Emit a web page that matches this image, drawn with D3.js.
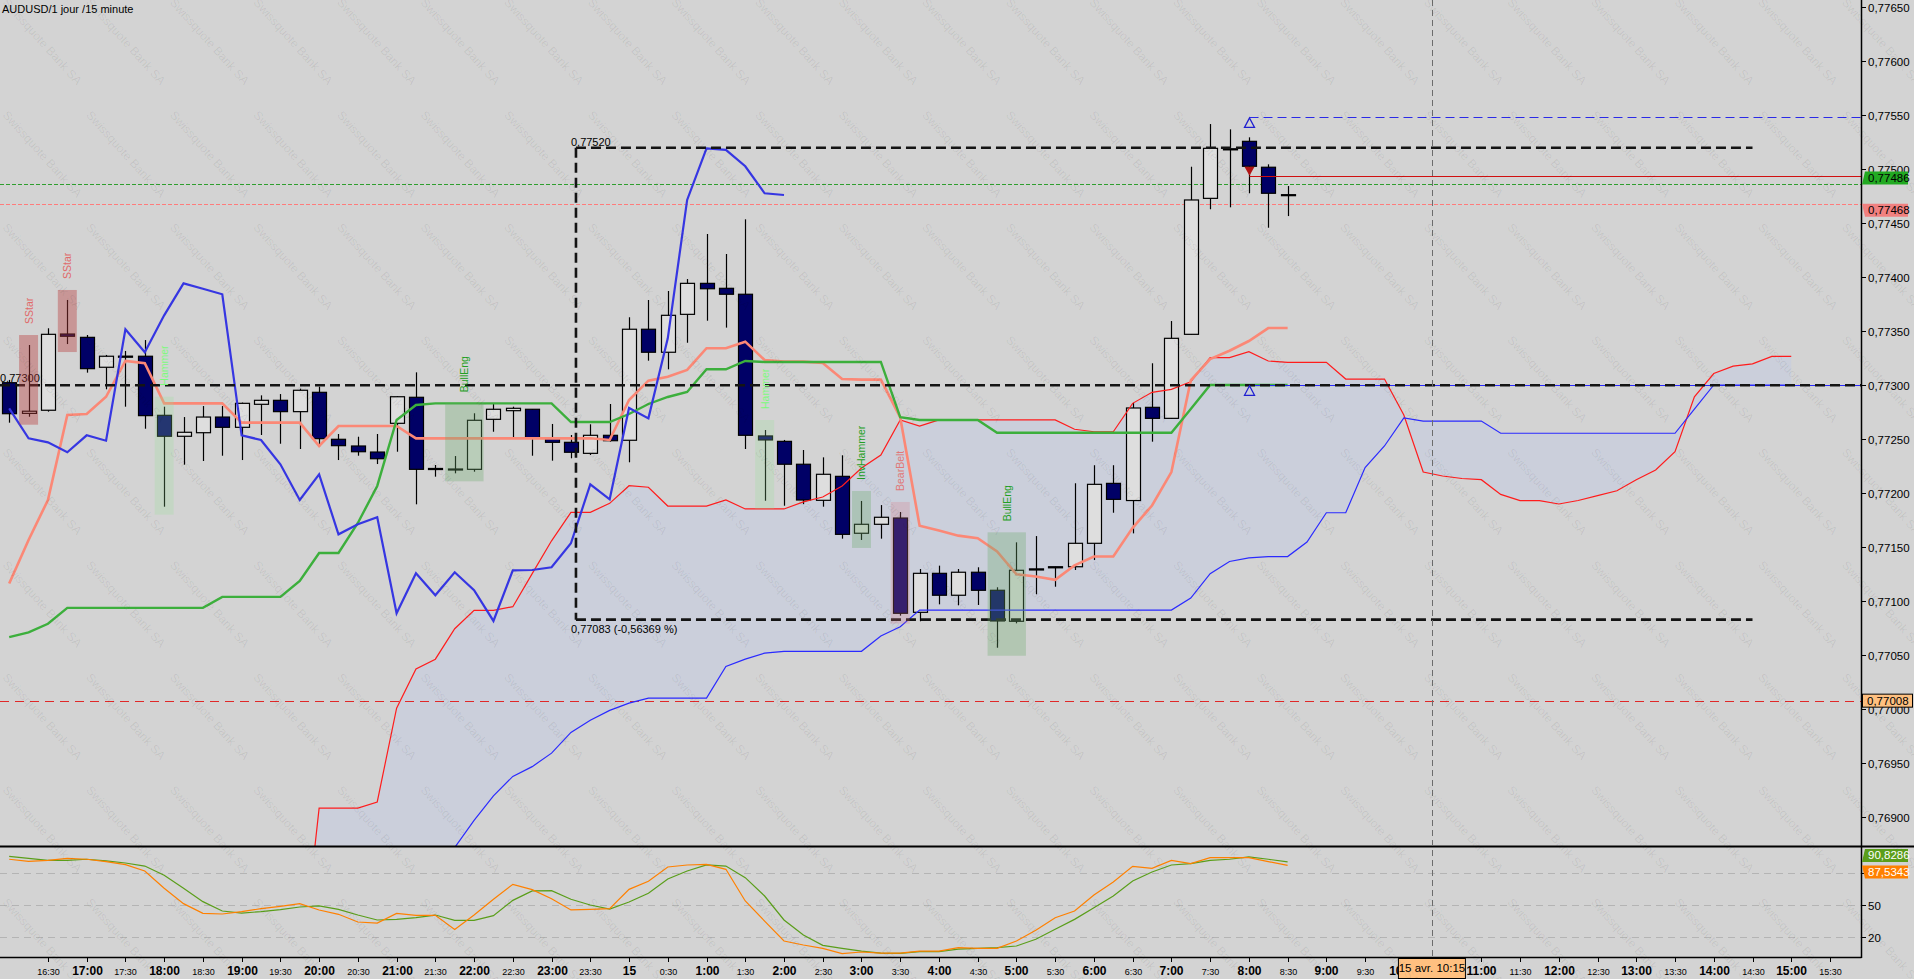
<!DOCTYPE html>
<html><head><meta charset="utf-8">
<script src="https://cdn.jsdelivr.net/npm/d3@7"></script>
<style>
html,body{margin:0;padding:0;background:#d3d3d3;overflow:hidden}
svg{display:block}
text{font-family:"Liberation Sans",Arial,sans-serif}
</style></head><body>
<svg id="c" width="1914" height="979"></svg>
<script>
// ---------------- DATA ----------------
const title = "AUDUSD/1 jour /15 minute";
const candleTimes = ["16:00","16:15","16:30","16:45","17:00","17:15","17:30","17:45","18:00","18:15","18:30","18:45","19:00","19:15","19:30","19:45","20:00","20:15","20:30","20:45","21:00","21:15","21:30","21:45","22:00","22:15","22:30","22:45","23:00","23:15","23:30","23:45","0:00","0:15","0:30","0:45","1:00","1:15","1:30","1:45","2:00","2:15","2:30","2:45","3:00","3:15","3:30","3:45","4:00","4:15","4:30","4:45","5:00","5:15","5:30","5:45","6:00","6:15","6:30","6:45","7:00","7:15","7:30","7:45","8:00","8:15","8:30"];
const opens  = [0.773024,0.77274,0.772769,0.773475,0.773444,0.773167,0.77327,0.773269,0.772722,0.772528,0.772561,0.772706,0.772611,0.772824,0.772861,0.772756,0.772935,0.7725,0.772438,0.772382,0.772648,0.772889,0.77223,0.772225,0.772222,0.772685,0.772765,0.772778,0.772509,0.772472,0.77237,0.772537,0.772491,0.773519,0.773306,0.773657,0.773944,0.773898,0.773843,0.772531,0.772481,0.772269,0.771935,0.772157,0.77163,0.771713,0.771771,0.770898,0.771259,0.771056,0.771269,0.771102,0.770815,0.7713,0.77132,0.77132,0.771537,0.772092,0.771933,0.772796,0.772694,0.773472,0.774731,0.77519,0.775259,0.775019,0.774765];
const highs  = [0.77305,0.773373,0.773528,0.77379,0.773466,0.773281,0.773318,0.773419,0.772802,0.772706,0.772808,0.772808,0.77284,0.772907,0.772919,0.772969,0.772987,0.772549,0.772524,0.772549,0.7729,0.77312,0.772262,0.772345,0.772741,0.772827,0.772802,0.77278,0.772642,0.77254,0.772639,0.772827,0.77363,0.77379,0.773873,0.773984,0.774401,0.774216,0.774537,0.772586,0.772494,0.772401,0.772333,0.772352,0.771929,0.771891,0.771827,0.771299,0.77133,0.771299,0.771315,0.77113,0.771546,0.771604,0.77132,0.772093,0.77226,0.77226,0.772838,0.773204,0.773595,0.775024,0.775419,0.77537,0.775296,0.775046,0.774845];
const lows   = [0.772654,0.772709,0.772756,0.773382,0.773117,0.772963,0.772802,0.772598,0.771876,0.772265,0.772299,0.772348,0.772308,0.77254,0.772459,0.77241,0.772431,0.772308,0.772348,0.772271,0.772385,0.771898,0.772154,0.772185,0.7722,0.77257,0.772519,0.772348,0.772302,0.772324,0.772355,0.772478,0.772287,0.773228,0.773148,0.773394,0.773598,0.773534,0.77241,0.771931,0.771885,0.7719,0.771876,0.77158,0.771568,0.77158,0.770867,0.770815,0.770972,0.770963,0.770966,0.77057,0.770796,0.771065,0.771135,0.77129,0.771382,0.77182,0.771629,0.772478,0.77269,0.77347,0.77463,0.774648,0.774778,0.774459,0.774567];
const closes = [0.772737,0.77276,0.773472,0.773454,0.773154,0.773269,0.77326,0.772719,0.772528,0.772565,0.772706,0.772611,0.772833,0.772861,0.772756,0.772954,0.772506,0.772441,0.772385,0.77232,0.772894,0.772222,0.77222,0.772225,0.772676,0.772778,0.772787,0.772509,0.772472,0.77238,0.772537,0.772487,0.773519,0.773306,0.773648,0.773944,0.773894,0.773843,0.772537,0.772494,0.772269,0.771938,0.772176,0.77162,0.771713,0.771778,0.770889,0.771259,0.771056,0.771269,0.771102,0.770818,0.771287,0.77129,0.77131,0.771537,0.772083,0.771944,0.77279,0.772694,0.773435,0.774716,0.775194,0.77518,0.775028,0.774778,0.77476];

// Ichimoku
const tenkan = [0.771165,0.771568,0.771938,0.772725,0.772734,0.772894,0.773225,0.773204,0.772833,0.772833,0.772833,0.772833,0.772654,0.772654,0.772654,0.772654,0.772438,0.772623,0.772623,0.772623,0.772623,0.772509,0.772509,0.772509,0.772509,0.772509,0.772509,0.772509,0.772509,0.772509,0.772509,0.772494,0.772864,0.773043,0.77308,0.773142,0.773343,0.773343,0.773404,0.773234,0.773219,0.773219,0.773207,0.773059,0.773053,0.773053,0.772702,0.7717,0.771655,0.771608,0.771584,0.771461,0.77125,0.77123,0.771199,0.771332,0.771415,0.771415,0.77168,0.771887,0.772196,0.773045,0.773242,0.77332,0.77341,0.77353,0.77353];
const kijun = [0.770668,0.770713,0.770792,0.770939,0.770939,0.770939,0.770939,0.770939,0.770939,0.770939,0.770939,0.771041,0.771041,0.771041,0.771041,0.771188,0.771447,0.771447,0.771725,0.772068,0.772679,0.772818,0.772833,0.772833,0.772833,0.772833,0.772833,0.772833,0.772833,0.77266,0.77266,0.77266,0.772734,0.772827,0.772892,0.772938,0.773148,0.773148,0.773225,0.773216,0.773216,0.773216,0.773216,0.773216,0.773216,0.773216,0.772704,0.772679,0.772679,0.772679,0.772679,0.772561,0.772561,0.772561,0.772561,0.772561,0.772561,0.772561,0.772561,0.772561,0.772561,0.77278,0.773003,0.773003,0.773003,0.773003,0.773003];
const chikou = [0.772787,0.772509,0.772472,0.77238,0.772537,0.772487,0.773519,0.773306,0.773648,0.773944,0.773894,0.773843,0.772537,0.772494,0.772269,0.771938,0.772176,0.77162,0.771713,0.771778,0.770889,0.771259,0.771056,0.771269,0.771102,0.770818,0.771287,0.77129,0.771315,0.771537,0.772083,0.771944,0.77279,0.772694,0.773435,0.774716,0.775194,0.77518,0.775028,0.774778,0.774762];
const spanStart = 15;
const spanA = [0.767451,0.769085,0.769085,0.769085,0.769142,0.77001,0.770373,0.770464,0.770746,0.770916,0.770916,0.77095,0.771256,0.77156,0.771824,0.771824,0.771907,0.77207,0.772056,0.771882,0.771882,0.771882,0.771938,0.771855,0.771855,0.771855,0.77192,0.771966,0.772068,0.772234,0.772355,0.772679,0.772623,0.772679,0.772679,0.772679,0.772679,0.772679,0.772679,0.772679,0.772593,0.77257,0.77257,0.772833,0.772935,0.772963,0.773033,0.773256,0.773256,0.773311,0.773225,0.773213,0.773213,0.773213,0.773058,0.773058,0.773058,0.772725,0.772197,0.77216,0.772137,0.772126,0.77199,0.771933,0.771933,0.771901,0.771933,0.771979,0.772024,0.772126,0.772216,0.772385,0.772894,0.773109,0.773177,0.773199,0.773268,0.773268];
const spanB = [0.7678,0.7678,0.7678,0.7678,0.7678,0.7679,0.768,0.76815,0.76872,0.768972,0.769198,0.769379,0.769469,0.769594,0.769786,0.769899,0.76999,0.770057,0.770103,0.770103,0.770103,0.770103,0.770396,0.770464,0.77052,0.770537,0.770537,0.770537,0.770537,0.770537,0.770679,0.770765,0.770919,0.770919,0.770919,0.770919,0.770919,0.770919,0.770919,0.770919,0.770919,0.770919,0.770919,0.770919,0.770919,0.770919,0.77103,0.771256,0.771369,0.771402,0.771414,0.771414,0.771549,0.77182,0.77182,0.772239,0.772438,0.772697,0.772669,0.772669,0.772669,0.772669,0.772556,0.772556,0.772556,0.772556,0.772556,0.772556,0.772556,0.772556,0.772556,0.772556,0.77278,0.773003,0.773003,0.773003,0.773003,0.773003];

// Stochastic
const stochK = [93.3,91.4,92.3,94.2,93.3,91.1,88.2,82.2,65.8,51.3,42.1,41.5,43.7,46.5,48.7,51.3,45.3,41.2,33.9,32.9,42.1,40.2,40.2,26.9,40.5,55.4,69.6,64.5,56,45.3,45.9,46.5,64.8,72.4,86,87.9,88.5,83.8,53.8,34.8,15.9,12.1,8.9,3.9,5.5,4.5,4.5,6.4,6.4,9.6,8.9,8.9,15.9,26,38,44.3,59.5,71.8,86.6,84.7,92.3,89.2,94.8,94.8,94.8,91.1,87.5];
const stochD = [96.1,94.2,92.3,92.3,93.3,91.7,89.8,86.9,78.1,65.8,53.2,44.3,42.4,43.7,45.6,48.1,49.1,45.9,40.5,35.8,36.4,38,40.5,35.5,35.5,39.9,54.4,63.3,63.6,55.4,50,46.2,52.8,61.1,74.6,82.2,87.9,86.9,75.9,58.5,35.8,21.6,11.8,8.9,6.4,4.5,4.2,5.8,5.8,8.3,8.9,9.6,11.2,17.5,27,36.4,47.5,58.5,72.7,81.3,87.9,89.2,92.3,93.3,95.5,93.3,90.8];
const stochKLabel = "87,5343", stochDLabel = "90,8286";

// Patterns
const patterns = [
  {name:"SStar", from:1, to:1, kind:"bear"},
  {name:"SStar", from:3, to:3, kind:"bear"},
  {name:"Hammer", from:8, to:8, kind:"hammer"},
  {name:"BullEng", from:23, to:24, kind:"bull"},
  {name:"Hammer", from:39, to:39, kind:"hammer"},
  {name:"InvHammer", from:44, to:44, kind:"bull"},
  {name:"BearBelt", from:46, to:46, kind:"belt"},
  {name:"BullEng", from:51, to:52, kind:"bull"}
];

// Horizontal levels / drawings
const level773 = 0.77300, level773Label = "0,77300";
const measureFrom = 29.26, measureTo = 90, measureHigh = 0.77520, measureLow = 0.77083;
const measureHighLabel = "0,77520", measureLowLabel = "0,77083 (-0,56369 %)";
const bidPrice = 0.77486, askPrice = 0.77468;
const crossIdx = 73.45, crossPrice = 0.77008, crossTimeLabel = "15 avr. 10:15";
const signalIdx = 64, signalBlueDash = 0.77548, signalRed = 0.77494, signalBlueSolid = 0.77300;

// Axes labels
const priceTicks = [0.76900,0.76950,0.77000,0.77050,0.77100,0.77150,0.77200,0.77250,0.77300,0.77350,0.77400,0.77450,0.77500,0.77550,0.77600,0.77650];
const oscTicks = [20,50,80];
const timeLabels = ["16:30","17:00","17:30","18:00","18:30","19:00","19:30","20:00","20:30","21:00","21:30","22:00","22:30","23:00","23:30","15","0:30","1:00","1:30","2:00","2:30","3:00","3:30","4:00","4:30","5:00","5:30","6:00","6:30","7:00","7:30","8:00","8:30","9:00","9:30","10:00","10:30","11:00","11:30","12:00","12:30","13:00","13:30","14:00","14:30","15:00","15:30"];
const timeLabelStart = 2, timeLabelStep = 2;
const watermark = "Swissquote Bank SA";

// ---------------- LAYOUT ----------------
const W = 1914, H = 979;
const plotR = 1861, mainBot = 846, oscTop = 846, oscBot = 957;
const x = d3.scaleLinear().domain([0, 66]).range([9.2, 9.2 + 66 * 19.37]);
const y = d3.scaleLinear().domain([0.772, 0.7765]).range([493.3, 7.3]);
const yo = d3.scaleLinear().domain([0, 100]).range([957.8, 852.2]);
const fmtP = v => d3.format(".5f")(v).replace(".", ",");

const svg = d3.select("#c");
const defs = svg.append("defs");
defs.append("clipPath").attr("id", "cm").append("rect").attr("x", 0).attr("y", 0).attr("width", plotR).attr("height", mainBot);
defs.append("clipPath").attr("id", "co").append("rect").attr("x", 0).attr("y", oscTop).attr("width", plotR).attr("height", oscBot - oscTop);

svg.append("rect").attr("width", W).attr("height", H).attr("fill", "#d3d3d3");

const gm = svg.append("g").attr("clip-path", "url(#cm)");

// Cloud
const spanIdx = d3.range(spanA.length).map(k => k + spanStart);
gm.append("path").datum(spanIdx)
  .attr("d", d3.area().x(i => x(i)).y0(i => y(spanB[i - spanStart])).y1(i => y(spanA[i - spanStart])))
  .attr("fill", "#cbcfdb");

function hline(g, p, x0, x1, color, w, dash) {
  g.append("line").attr("x1", x0).attr("x2", x1).attr("y1", Math.round(y(p)) + 0.5).attr("y2", Math.round(y(p)) + 0.5)
    .attr("stroke", color).attr("stroke-width", w).attr("stroke-dasharray", dash || null);
}
hline(gm, bidPrice, 0, plotR, "#2e9e2e", 1, "4,2");
hline(gm, askPrice, 0, plotR, "#ff7b7b", 1, "4,2");
hline(gm, crossPrice, 0, plotR, "#e02828", 1, "9,6");

// Candles
const idx = d3.range(opens.length);
const cg = gm.append("g");
cg.selectAll("line.w").data(idx).join("line")
  .attr("x1", i => Math.round(x(i)) + 0.5).attr("x2", i => Math.round(x(i)) + 0.5)
  .attr("y1", i => y(highs[i])).attr("y2", i => y(lows[i]))
  .attr("stroke", "#000").attr("stroke-width", 1.2);
cg.selectAll("rect.b").data(idx).join("rect")
  .attr("x", i => Math.round(x(i)) - 6.5).attr("width", 14)
  .attr("y", i => Math.min(y(opens[i]), y(closes[i])))
  .attr("height", i => Math.max(1, Math.abs(y(opens[i]) - y(closes[i]))))
  .attr("fill", i => closes[i] < opens[i] ? "#000066" : "#dedede")
  .attr("stroke", "#000").attr("stroke-width", 1.2);

// Indicator lines
const lineGen = off => d3.line().x((d, k) => x(k + off)).y(d => y(d));
gm.append("path").attr("d", lineGen(spanStart)(spanA)).attr("fill", "none").attr("stroke", "#ff1c1c").attr("stroke-width", 1.2);
gm.append("path").attr("d", lineGen(spanStart)(spanB)).attr("fill", "none").attr("stroke", "#2a2aff").attr("stroke-width", 1.2);
gm.append("path").attr("d", lineGen(0)(tenkan)).attr("fill", "none").attr("stroke", "#fb8876").attr("stroke-width", 2.6);
gm.append("path").attr("d", lineGen(0)(kijun)).attr("fill", "none").attr("stroke", "#3caf3c").attr("stroke-width", 2.4);
gm.append("path").attr("d", lineGen(0)(chikou)).attr("fill", "none").attr("stroke", "#3636e2").attr("stroke-width", 2.2);

// signal lines
const sx = Math.round(x(signalIdx)) + 0.5;
hline(gm, signalBlueSolid, sx, plotR, "#2a2aff", 1);
hline(gm, signalBlueDash, sx, plotR, "#2a2ae6", 1, "9,5");
hline(gm, signalRed, sx, plotR, "#d01010", 1.2);

// Black dashed drawings
const dashS = "10,5";
gm.append("line").attr("x1", 0).attr("x2", plotR).attr("y1", y(level773)).attr("y2", y(level773))
  .attr("stroke", "#141414").attr("stroke-width", 2.6).attr("stroke-dasharray", dashS);
[measureHigh, measureLow].forEach(p => {
  gm.append("line").attr("x1", x(measureFrom)).attr("x2", x(measureTo)).attr("y1", y(p)).attr("y2", y(p))
    .attr("stroke", "#141414").attr("stroke-width", 2.6).attr("stroke-dasharray", dashS);
});
gm.append("line").attr("x1", x(measureFrom)).attr("x2", x(measureFrom)).attr("y1", y(measureHigh)).attr("y2", y(measureLow))
  .attr("stroke", "#141414").attr("stroke-width", 2.6).attr("stroke-dasharray", dashS);
gm.append("text").attr("x", x(measureFrom) - 5).attr("y", y(measureHigh) - 2).attr("font-size", 11).text(measureHighLabel);
gm.append("text").attr("x", x(measureFrom) - 5).attr("y", y(measureLow) + 13).attr("font-size", 11).text(measureLowLabel);
gm.append("text").attr("x", 0).attr("y", y(level773) - 3).attr("font-size", 11).text(level773Label);

// Pattern boxes and labels
const patStyle = {
  bear:   {fill: "rgba(185,60,60,0.40)", text: "#e06a6a"},
  belt:   {fill: "rgba(215,120,130,0.25)", text: "#e07878"},
  hammer: {fill: "rgba(150,225,150,0.24)", text: "#7cfa7c"},
  bull:   {fill: "rgba(110,170,110,0.32)", text: "#23a023"}
};
patterns.forEach(pt => {
  const hi = d3.max(d3.range(pt.from, pt.to + 1), i => highs[i]);
  const lo = d3.min(d3.range(pt.from, pt.to + 1), i => lows[i]);
  const x0 = x(pt.from) - 9.5, x1 = x(pt.to) + 9.5;
  const top = y(hi) - 10, bot = y(lo) + 8;
  const st = patStyle[pt.kind];
  gm.append("rect").attr("x", x0).attr("y", top).attr("width", x1 - x0).attr("height", bot - top).attr("fill", st.fill);
  gm.append("text").attr("transform", `translate(${(x0 + x1) / 2},${top - 11}) rotate(-90)`)
    .attr("dominant-baseline", "central").attr("font-size", 10.5).attr("fill", st.text).text(pt.name);
});

// Signal triangles
const ty1 = y(signalBlueDash), ty2 = y(signalBlueSolid), ty3 = y(signalRed);
gm.append("path").attr("d", `M${sx},${ty1 + 0.5} L${sx + 5},${ty1 + 10} L${sx - 5},${ty1 + 10} Z`).attr("fill", "none").attr("stroke", "#2020d0").attr("stroke-width", 1.3);
gm.append("path").attr("d", `M${sx},${ty2 + 0.5} L${sx + 5},${ty2 + 10} L${sx - 5},${ty2 + 10} Z`).attr("fill", "none").attr("stroke", "#2020d0").attr("stroke-width", 1.3);
gm.append("path").attr("d", `M${sx - 5},${ty3 - 9} L${sx + 5},${ty3 - 9} L${sx},${ty3} Z`).attr("fill", "#b01414");

// ---------------- Oscillator ----------------
const go = svg.append("g").attr("clip-path", "url(#co)");
oscTicks.forEach(v => {
  go.append("line").attr("x1", 0).attr("x2", plotR).attr("y1", Math.round(yo(v)) + 0.5).attr("y2", Math.round(yo(v)) + 0.5)
    .attr("stroke", "#b4b4b4").attr("stroke-width", 1).attr("stroke-dasharray", "7,5");
});
const oLine = d3.line().x((d, k) => x(k)).y(d => yo(d));
go.append("path").attr("d", oLine(stochD)).attr("fill", "none").attr("stroke", "#5a9e1a").attr("stroke-width", 1.2);
go.append("path").attr("d", oLine(stochK)).attr("fill", "none").attr("stroke", "#ff8000").attr("stroke-width", 1.2);

// ---------------- Axes ----------------
svg.append("line").attr("x1", 0).attr("x2", W).attr("y1", mainBot + 0.5).attr("y2", mainBot + 0.5).attr("stroke", "#000").attr("stroke-width", 2);
svg.append("line").attr("x1", 0).attr("x2", plotR + 0.5).attr("y1", oscBot + 0.5).attr("y2", oscBot + 0.5).attr("stroke", "#000").attr("stroke-width", 1.5);
svg.append("line").attr("x1", plotR + 0.5).attr("x2", plotR + 0.5).attr("y1", 0).attr("y2", oscBot + 1).attr("stroke", "#000").attr("stroke-width", 1.5);

priceTicks.forEach(p => {
  const yy = Math.round(y(p)) + 0.5;
  svg.append("line").attr("x1", plotR + 1).attr("x2", plotR + 5).attr("y1", yy).attr("y2", yy).attr("stroke", "#000");
  svg.append("text").attr("x", plotR + 7).attr("y", yy).attr("dominant-baseline", "central").attr("font-size", 11.5).text(fmtP(p));
});
oscTicks.forEach(v => {
  const yy = Math.round(yo(v)) + 0.5;
  svg.append("line").attr("x1", plotR + 1).attr("x2", plotR + 5).attr("y1", yy).attr("y2", yy).attr("stroke", "#000");
  svg.append("text").attr("x", plotR + 7).attr("y", yy).attr("dominant-baseline", "central").attr("font-size", 11.5).text(v);
});

function tag(yl, label, fill, txt, above) {
  const t = above ? yl - 13 : yl, b = above ? yl : yl + 13;
  const xl1 = above ? plotR + 4 : plotR + 1, xl2 = above ? plotR + 1 : plotR + 4;
  svg.append("path").attr("d", `M${xl1},${t} L${W - 6},${t} L${W - 6},${b} L${xl2},${b} Z`).attr("fill", fill);
  svg.append("text").attr("x", plotR + 7).attr("y", (t + b) / 2).attr("dominant-baseline", "central").attr("font-size", 11.5).attr("fill", txt).text(label);
}
tag(y(bidPrice), fmtP(bidPrice), "#22aa22", "#000", true);
tag(y(askPrice), fmtP(askPrice), "#f08080", "#000", false);
tag(yo(stochD[stochD.length - 1]), stochDLabel, "#5a9e1a", "#fff", true);
tag(yo(stochK[stochK.length - 1]), stochKLabel, "#ff8000", "#fff", false);
const cy = y(crossPrice);
svg.append("rect").attr("x", plotR + 1.5).attr("y", cy - 6.5).attr("width", W - plotR - 3).attr("height", 13).attr("fill", "#ffc080").attr("stroke", "#000");
svg.append("text").attr("x", plotR + 6).attr("y", cy).attr("dominant-baseline", "central").attr("font-size", 11.5).text(fmtP(crossPrice));

timeLabels.forEach((lab, k) => {
  const xi = Math.round(x(timeLabelStart + k * timeLabelStep)) + 0.5;
  const major = lab.indexOf(":30") < 0;
  svg.append("line").attr("x1", xi).attr("x2", xi).attr("y1", oscBot + 1).attr("y2", oscBot + 5).attr("stroke", "#000");
  svg.append("text").attr("x", xi).attr("y", 975).attr("text-anchor", "middle")
    .attr("font-size", major ? 12 : 9).attr("font-weight", major ? "bold" : "normal")
    .attr("font-family", major ? "'Liberation Sans',Arial,sans-serif" : "'Liberation Sans Narrow','Liberation Sans',sans-serif")
    .text(lab);
});
const cxp = x(crossIdx);
svg.append("line").attr("x1", Math.round(cxp) + 0.5).attr("x2", Math.round(cxp) + 0.5).attr("y1", 0).attr("y2", oscBot)
  .attr("stroke", "#6c6c6c").attr("stroke-width", 1).attr("stroke-dasharray", "6,4");
svg.append("rect").attr("x", cxp - 33.5).attr("y", oscBot + 1.5).attr("width", 67).attr("height", 20).attr("fill", "#ffc080").attr("stroke", "#000");
svg.append("text").attr("x", cxp).attr("y", 972).attr("text-anchor", "middle").attr("font-size", 11.5).text(crossTimeLabel);

svg.append("text").attr("x", 2).attr("y", 13).attr("font-size", 11).text(title);

const wm = svg.append("g").attr("pointer-events", "none");
d3.range(-2, 24).forEach(c => {
  d3.range(-1, 10).forEach(r => {
    wm.append("text").attr("transform", `translate(${2 + c * 83.6},${3 + r * 112.5}) rotate(48)`)
      .attr("font-family", "'DejaVu Sans',sans-serif").attr("font-size", 12).attr("fill", "rgba(0,0,0,0.075)").text(watermark);
  });
});
</script>
</body></html>
